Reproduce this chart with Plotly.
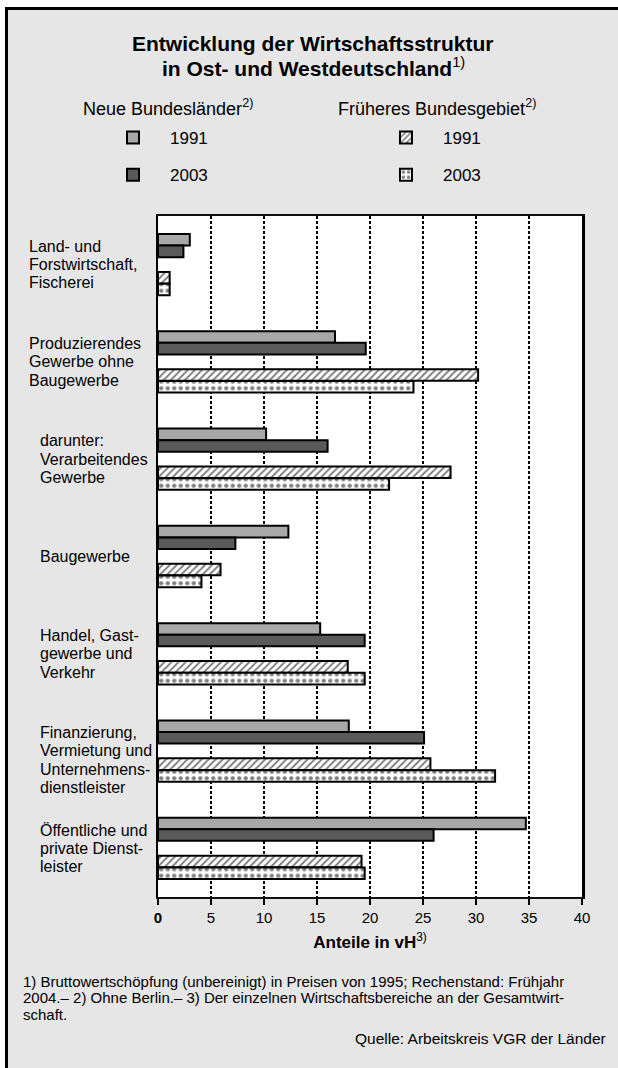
import plotly.graph_objects as go

# ---------------- data ----------------
categories = [
    "Land- und Forstwirtschaft, Fischerei",
    "Produzierendes Gewerbe ohne Baugewerbe",
    "darunter: Verarbeitendes Gewerbe",
    "Baugewerbe",
    "Handel, Gastgewerbe und Verkehr",
    "Finanzierung, Vermietung und Unternehmensdienstleister",
    "Öffentliche und private Dienstleister",
]
category_lines = [
    ["Land- und", "Forstwirtschaft,", "Fischerei"],
    ["Produzierendes", "Gewerbe ohne", "Baugewerbe"],
    ["darunter:", "Verarbeitendes", "Gewerbe"],
    ["Baugewerbe"],
    ["Handel, Gast-", "gewerbe und", "Verkehr"],
    ["Finanzierung,", "Vermietung und", "Unternehmens-", "dienstleister"],
    ["Öffentliche und", "private Dienst-", "leister"],
]
label_indent = [0, 0, 1, 1, 1, 1, 1]
label_shift = [0, 0, 0, 0, 0, -9, 0]

nbl_1991 = [3.0, 16.7, 10.2, 12.3, 15.3, 18.0, 34.7]
nbl_2003 = [2.4, 19.6, 16.0, 7.3, 19.5, 25.1, 26.0]
fbg_1991 = [1.1, 30.2, 27.6, 5.9, 17.9, 25.7, 19.2]
fbg_2003 = [1.1, 24.1, 21.8, 4.1, 19.5, 31.8, 19.5]

tick_values = [0, 5, 10, 15, 20, 25, 30, 35, 40]
tick_labels = ["<b>0</b>", "5", "10", "15", "20", "25", "30", "35", "40"]

title_lines = ["<b>Entwicklung der Wirtschaftsstruktur</b>",
               "<b>in Ost- und Westdeutschland</b><sup>1)</sup>"]
footnote_lines = [
    "1) Bruttowertschöpfung (unbereinigt) in Preisen von 1995; Rechenstand: Frühjahr",
    "2004.– 2) Ohne Berlin.– 3) Der einzelnen Wirtschaftsbereiche an der Gesamtwirt-",
    "schaft.",
]
source_text = "Quelle: Arbeitskreis VGR der Länder"

FONT = "Liberation Sans, Arial, Helvetica, sans-serif"
W, H = 618, 1068
ML, MR, MT, MB = 158, 36, 216, 171
PW = W - ML - MR
PH = H - MT - MB


def px_x(px):
    return (px - ML) / PW


def px_y(py):
    return (H - MB - py) / PH


fig = go.Figure()

bar_w = 0.119
series = [
    ("1991", nbl_1991, "#a8a8a8", None, -0.315, "legend", "g1"),
    ("2003", nbl_2003, "#5a5a5a", None, -0.196, "legend", "g2"),
    ("1991", fbg_1991, "white", dict(shape="/", fgcolor="black", bgcolor="white",
                                     size=5, solidity=0.4), 0.075, "legend2", "g3"),
    ("2003", fbg_2003, "white", dict(shape=".", fgcolor="black", bgcolor="white",
                                     size=6.5, solidity=0.35), 0.196, "legend2", "g4"),
]
for name, vals, color, pattern, off, leg, grp in series:
    marker = dict(color=color, line=dict(color="black", width=2))
    if pattern:
        marker["pattern"] = pattern
    fig.add_trace(go.Bar(
        x=vals, y=categories, orientation="h", name=name,
        marker=marker, offset=off, width=bar_w,
        legend=leg, legendgroup=grp, showlegend=True,
        hoverinfo="skip",
    ))

fig.update_layout(
    width=W, height=H,
    margin=dict(l=ML, r=MR, t=MT, b=MB, pad=0),
    paper_bgcolor="#e6e6e6",
    plot_bgcolor="white",
    barmode="overlay",
    font=dict(family=FONT, color="black", size=15),
    xaxis=dict(
        range=[0, 40], tickvals=tick_values, ticktext=tick_labels,
        showgrid=True, gridcolor="black", gridwidth=2, griddash="3px,2px",
        zeroline=False, showline=True, linecolor="#111", linewidth=2, mirror=True,
        ticks="outside", ticklen=6, tickwidth=2, tickcolor="black",
        tickfont=dict(size=15, family=FONT),
        title=dict(text="<b>Anteile in vH</b><sup>3)</sup>", font=dict(size=17, family=FONT),
                   standoff=11),
        fixedrange=True,
    ),
    yaxis=dict(
        categoryorder="array", categoryarray=categories,
        range=[6.5, -0.5], showticklabels=False, ticks="",
        showgrid=False, zeroline=False,
        showline=True, linecolor="black", linewidth=2.5, mirror=True,
        fixedrange=True,
    ),
    legend=dict(
        x=px_x(96), y=px_y(120), xanchor="left", yanchor="top",
        bgcolor="rgba(0,0,0,0)", borderwidth=0, font=dict(size=17, family=FONT),
        itemwidth=64, tracegroupgap=12, traceorder="grouped",
    ),
    legend2=dict(
        x=px_x(369), y=px_y(120), xanchor="left", yanchor="top",
        bgcolor="rgba(0,0,0,0)", borderwidth=0, font=dict(size=17, family=FONT),
        itemwidth=64, tracegroupgap=12, traceorder="grouped",
    ),
)

annotations = []
# title (one annotation per line for tight line spacing)
for i, t in enumerate(title_lines):
    annotations.append(dict(
        text=t, xref="paper", yref="paper", x=px_x(313), y=px_y(43 + 24.5 * i),
        xanchor="center", yanchor="middle", showarrow=False,
        font=dict(size=21, family=FONT),
    ))
# legend headers
annotations.append(dict(
    text="Neue Bundesländer<sup>2)</sup>", xref="paper", yref="paper",
    x=px_x(81), y=px_y(107), xanchor="left", yanchor="middle", showarrow=False,
    font=dict(size=18, family=FONT),
))
annotations.append(dict(
    text="Früheres Bundesgebiet<sup>2)</sup>", xref="paper", yref="paper",
    x=px_x(336), y=px_y(107), xanchor="left", yanchor="middle", showarrow=False,
    font=dict(size=18, family=FONT),
))
# category labels, line by line, centred on each category band
LS = 18.3
for cat, lines, ind, sh in zip(categories, category_lines, label_indent, label_shift):
    n = len(lines)
    for j, ln in enumerate(lines):
        annotations.append(dict(
            text=ln, xref="paper", yref="y", x=px_x(27 if ind == 0 else 38), y=cat,
            yshift=((n - 1) / 2 - j) * LS + sh,
            xanchor="left", yanchor="middle", showarrow=False, align="left",
            font=dict(size=16, family=FONT),
        ))
# footnotes
for i, t in enumerate(footnote_lines):
    annotations.append(dict(
        text=t, xref="paper", yref="paper", x=px_x(21), y=px_y(981 + 16.5 * i),
        xanchor="left", yanchor="middle", showarrow=False, align="left",
        font=dict(size=15, family=FONT),
    ))
annotations.append(dict(
    text=source_text,
    xref="paper", yref="paper", x=px_x(608), y=px_y(1038),
    xanchor="right", yanchor="middle", showarrow=False, align="right",
    font=dict(size=15.5, family=FONT),
))
fig.update_layout(annotations=annotations)

# outer frame (white margin strips + black frame lines), kept inside the page
shapes = [
    dict(type="rect", xref="paper", yref="paper", x0=px_x(0), x1=px_x(5),
         y0=px_y(H), y1=px_y(0), fillcolor="white", line=dict(width=0), layer="above"),
    dict(type="rect", xref="paper", yref="paper", x0=px_x(0), x1=px_x(W),
         y0=px_y(7), y1=px_y(0), fillcolor="white", line=dict(width=0), layer="above"),
    dict(type="line", xref="paper", yref="paper", x0=px_x(6.5), x1=px_x(6.5),
         y0=px_y(7), y1=px_y(H), line=dict(color="black", width=3), layer="above"),
    dict(type="line", xref="paper", yref="paper", x0=px_x(5), x1=px_x(W),
         y0=px_y(8.5), y1=px_y(8.5), line=dict(color="black", width=3), layer="above"),
]
fig.update_layout(shapes=shapes)

fig.write_html(
    "out.html",
    config={"displayModeBar": False, "staticPlot": True},
    post_script=("document.body.style.margin='0';"
                 "document.body.style.overflow='hidden';"
                 "document.documentElement.style.overflow='hidden';"),
)
